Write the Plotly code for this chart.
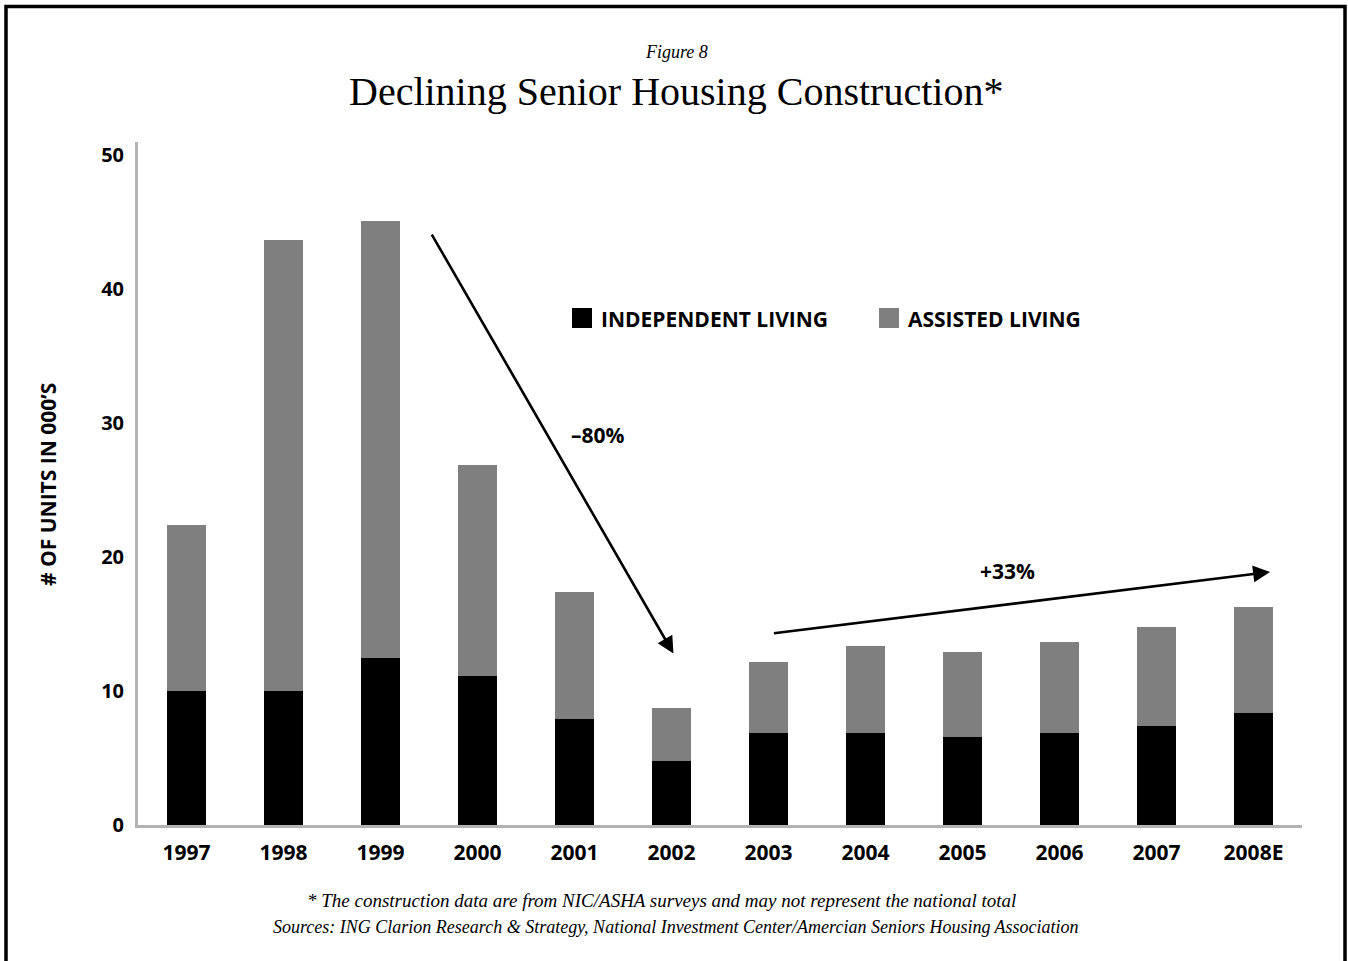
import plotly.graph_objects as go

# Senior housing units started, thousands
years = ["1997", "1998", "1999", "2000", "2001", "2002",
         "2003", "2004", "2005", "2006", "2007", "2008E"]
independent = [10.0, 10.0, 12.5, 11.1, 7.9, 4.8, 6.9, 6.9, 6.6, 6.9, 7.4, 8.4]
assisted = [12.4, 33.7, 32.6, 15.8, 9.5, 3.9, 5.3, 6.5, 6.3, 6.8, 7.4, 7.9]
y_ticks = [0, 10, 20, 30, 40, 50]

W, H = 1348, 961
ML, MR, MT, MB = 138, 46, 142, 136
PW, PH = W - ML - MR, H - MT - MB

SANS = "Open Sans"
SERIF = "Liberation Serif"
BLACK = "#000000"
GRAY = "#7f7f7f"
AXIS = "#b3b3b3"


def px(x):
    return (x - ML) / PW


def py(y):
    return (H - MB - y) / PH


fig = go.Figure()
fig.add_trace(go.Bar(x=years, y=independent, name="INDEPENDENT LIVING",
                     marker=dict(color=BLACK, line=dict(width=0))))
fig.add_trace(go.Bar(x=years, y=assisted, name="ASSISTED LIVING",
                     marker=dict(color=GRAY, line=dict(width=0))))

annotations = []
shapes = []

# headings
annotations.append(dict(text="<i>Figure 8</i>", x=px(676), y=py(52), xref="paper", yref="paper",
                        showarrow=False, font=dict(family=SERIF, size=18, color=BLACK),
                        xanchor="center", yanchor="middle"))
annotations.append(dict(text="Declining Senior Housing Construction*", x=px(676), y=py(92),
                        xref="paper", yref="paper", showarrow=False,
                        font=dict(family=SERIF, size=40, color=BLACK),
                        xanchor="center", yanchor="middle"))

# footnotes
annotations.append(dict(text="<i>* The construction data are from NIC/ASHA surveys and may not represent the national total</i>",
                        x=px(661), y=py(901), xref="paper", yref="paper", showarrow=False,
                        font=dict(family=SERIF, size=19, color=BLACK),
                        xanchor="center", yanchor="middle"))
annotations.append(dict(text="<i>Sources: ING Clarion Research &amp; Strategy, National Investment Center/Amercian Seniors Housing Association</i>",
                        x=px(676), y=py(927), xref="paper", yref="paper", showarrow=False,
                        font=dict(family=SERIF, size=18, color=BLACK),
                        xanchor="center", yanchor="middle"))

# y axis title
annotations.append(dict(text="<b># OF UNITS IN 000’S</b>", x=px(48), y=py(485), xref="paper", yref="paper",
                        showarrow=False, textangle=-90,
                        font=dict(family=SANS, size=21, color=BLACK),
                        xanchor="center", yanchor="middle"))

# legend drawn as swatches and labels
for name, color, sx, tx in [("INDEPENDENT LIVING", BLACK, 572, 599),
                            ("ASSISTED LIVING", GRAY, 879, 906)]:
    shapes.append(dict(type="rect", xref="paper", yref="paper",
                       x0=px(sx), x1=px(sx + 20), y0=py(328), y1=py(308),
                       fillcolor=color, line=dict(width=0)))
    annotations.append(dict(text=f"<b>{name}</b>", x=px(tx), y=py(319), xref="paper", yref="paper",
                            showarrow=False, font=dict(family=SANS, size=21, color=BLACK),
                            xanchor="left", yanchor="middle"))

# trend arrows
annotations.append(dict(x=5.02, y=12.8, ax=2.52, ay=44.2, xref="x", yref="y", axref="x", ayref="y",
                        showarrow=True, arrowhead=2, arrowsize=1.3, arrowwidth=2.6,
                        arrowcolor=BLACK, standoff=0, text=""))
annotations.append(dict(x=11.17, y=18.9, ax=6.04, ay=14.3, xref="x", yref="y", axref="x", ayref="y",
                        showarrow=True, arrowhead=2, arrowsize=1.3, arrowwidth=2.6,
                        arrowcolor=BLACK, standoff=0, text=""))
annotations.append(dict(text="<b>–80%</b>", x=4.24, y=29.1, xref="x", yref="y", showarrow=False,
                        font=dict(family=SANS, size=21, color=BLACK)))
annotations.append(dict(text="<b>+33%</b>", x=8.46, y=18.95, xref="x", yref="y", showarrow=False,
                        font=dict(family=SANS, size=21, color=BLACK)))

# outer frame
shapes.append(dict(type="rect", xref="paper", yref="paper",
                   x0=px(6), x1=px(1345), y0=py(1010), y1=py(6.5),
                   line=dict(color=BLACK, width=3.5), fillcolor="rgba(0,0,0,0)", layer="above"))

fig.update_layout(
    width=W, height=H,
    margin=dict(l=ML, r=MR, t=MT, b=MB, pad=0),
    paper_bgcolor="white", plot_bgcolor="white",
    barmode="stack", bargap=0.6,
    showlegend=False,
    annotations=annotations, shapes=shapes,
    xaxis=dict(type="category", range=[-0.5, 11.5], showgrid=False, zeroline=False,
               showline=True, linecolor=AXIS, linewidth=3, ticks="",
               tickfont=dict(family=SANS, size=21, color=BLACK, weight="bold"),
               ticklabelstandoff=7, fixedrange=True),
    yaxis=dict(range=[0, 51], tickvals=y_ticks, ticktext=[str(v) for v in y_ticks],
               showgrid=False, zeroline=False, showline=True, linecolor=AXIS, linewidth=3,
               ticks="", tickfont=dict(family=SANS, size=20, color=BLACK, weight="bold"),
               ticklabelstandoff=7, fixedrange=True),
)

fig.write_html("out.html")
